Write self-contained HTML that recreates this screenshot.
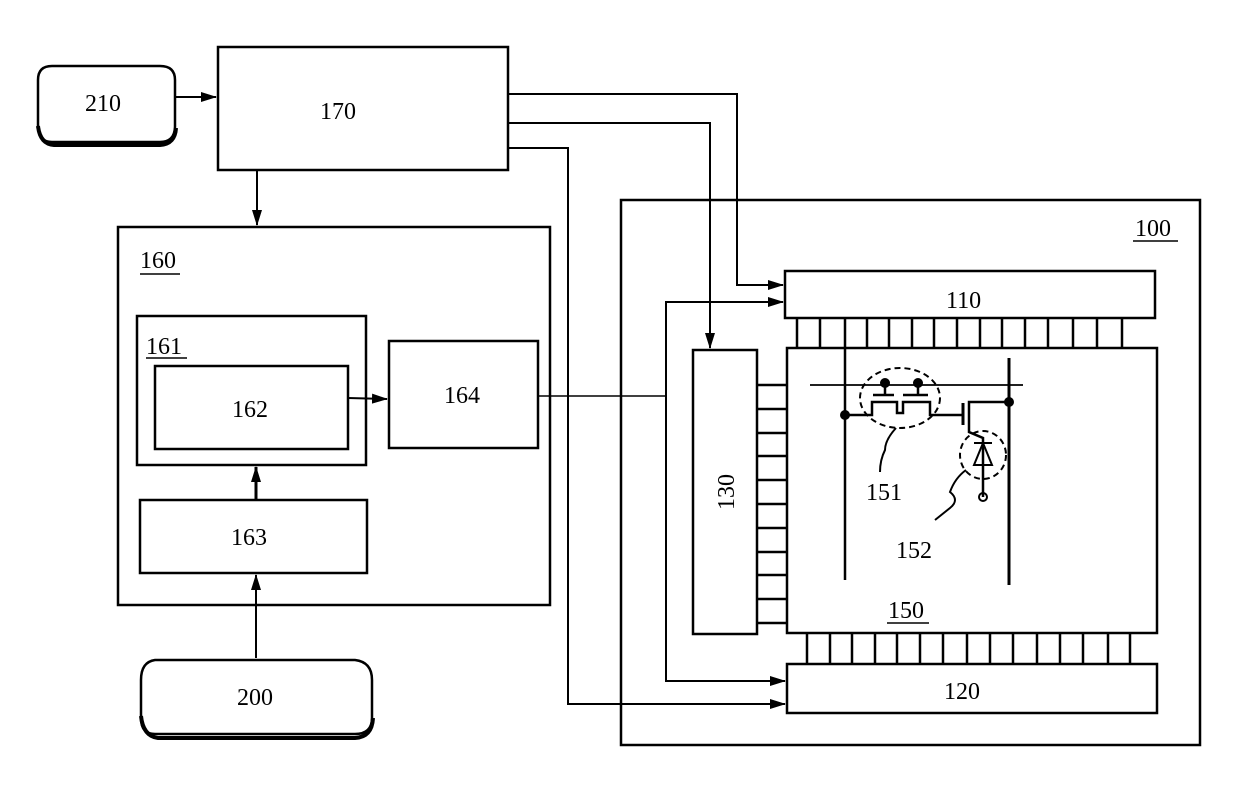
<!DOCTYPE html>
<html><head><meta charset="utf-8"><style>
html,body{margin:0;padding:0;background:#fff;}
svg{display:block;}
text{font-family:"Liberation Serif",serif;font-size:24px;fill:#000;}
</style></head><body>
<svg width="1240" height="809" viewBox="0 0 1240 809" xmlns="http://www.w3.org/2000/svg">
<defs>
<marker id="a" markerWidth="16" markerHeight="12" refX="15" refY="6" orient="auto" markerUnits="userSpaceOnUse">
<path d="M0,1 L16,6 L0,11 z" fill="#000"/></marker>
</defs>
<g fill="none" stroke="#000" stroke-width="2.5">
<path d="M52,66 H160 Q175,66 175,80 V126 Q175,142 160,142 H52 Q38,142 38,126 V80 Q38,66 52,66 Z"/>
<path d="M38,126 Q40,144 54,145 H160 Q175,144 176,128" stroke-width="4"/>
<rect x="218" y="47" width="290" height="123"/>
<line x1="175" y1="97" x2="216" y2="97" marker-end="url(#a)" stroke-width="2"/>
<line x1="257" y1="170" x2="257" y2="225" marker-end="url(#a)" stroke-width="2"/>
<rect x="118" y="227" width="432" height="378"/>
<rect x="137" y="316" width="229" height="149"/>
<rect x="155" y="366" width="193" height="83"/>
<rect x="389" y="341" width="149" height="107"/>
<rect x="140" y="500" width="227" height="73"/>
<line x1="348" y1="398" x2="387" y2="399" marker-end="url(#a)" stroke-width="2"/>
<line x1="256" y1="500" x2="256" y2="467" marker-end="url(#a)" stroke-width="3"/>
<line x1="256" y1="658" x2="256" y2="575" marker-end="url(#a)" stroke-width="2"/>
<path d="M155,660 H355 Q372,662 372,680 V718 Q372,734 355,734 H155 Q141,734 141,718 V680 Q141,662 155,660 Z"/>
<path d="M141,716 Q143,736 158,738 H355 Q372,737 373,718" stroke-width="4"/>
<rect x="621" y="200" width="579" height="545"/>
<rect x="785" y="271" width="370" height="47"/>
<rect x="787" y="664" width="370" height="49"/>
<rect x="693" y="350" width="64" height="284"/>
<rect x="787" y="348" width="370" height="285"/>
<path d="M508,94 H737 V285 H783" marker-end="url(#a)" stroke-width="2"/>
<path d="M508,123 H710 V348" marker-end="url(#a)" stroke-width="2"/>
<path d="M508,148 H568 V704 H785" marker-end="url(#a)" stroke-width="2"/>
<path d="M538,396 H665" stroke-width="1.5"/>
<path d="M783,302 H666 V681 H785" stroke-width="2"/>
<path d="M666,302 H783" marker-end="url(#a)" stroke-width="2"/>
<path d="M666,681 H785" marker-end="url(#a)" stroke-width="2"/>
</g>
<g stroke="#000" stroke-width="2.5">
<line x1="797" y1="318" x2="797" y2="348"/><line x1="820" y1="318" x2="820" y2="348"/><line x1="867" y1="318" x2="867" y2="348"/><line x1="889" y1="318" x2="889" y2="348"/><line x1="912" y1="318" x2="912" y2="348"/><line x1="934" y1="318" x2="934" y2="348"/><line x1="957" y1="318" x2="957" y2="348"/><line x1="980" y1="318" x2="980" y2="348"/><line x1="1002" y1="318" x2="1002" y2="348"/><line x1="1025" y1="318" x2="1025" y2="348"/><line x1="1048" y1="318" x2="1048" y2="348"/><line x1="1073" y1="318" x2="1073" y2="348"/><line x1="1097" y1="318" x2="1097" y2="348"/><line x1="1122" y1="318" x2="1122" y2="348"/>
<line x1="807" y1="633" x2="807" y2="664"/><line x1="830" y1="633" x2="830" y2="664"/><line x1="852" y1="633" x2="852" y2="664"/><line x1="875" y1="633" x2="875" y2="664"/><line x1="897" y1="633" x2="897" y2="664"/><line x1="920" y1="633" x2="920" y2="664"/><line x1="943" y1="633" x2="943" y2="664"/><line x1="967" y1="633" x2="967" y2="664"/><line x1="990" y1="633" x2="990" y2="664"/><line x1="1013" y1="633" x2="1013" y2="664"/><line x1="1037" y1="633" x2="1037" y2="664"/><line x1="1060" y1="633" x2="1060" y2="664"/><line x1="1083" y1="633" x2="1083" y2="664"/><line x1="1108" y1="633" x2="1108" y2="664"/><line x1="1130" y1="633" x2="1130" y2="664"/>
<line x1="757" y1="385" x2="787" y2="385"/><line x1="757" y1="409" x2="787" y2="409"/><line x1="757" y1="433" x2="787" y2="433"/><line x1="757" y1="456" x2="787" y2="456"/><line x1="757" y1="480" x2="787" y2="480"/><line x1="757" y1="504" x2="787" y2="504"/><line x1="757" y1="528" x2="787" y2="528"/><line x1="757" y1="552" x2="787" y2="552"/><line x1="757" y1="575" x2="787" y2="575"/><line x1="757" y1="599" x2="787" y2="599"/><line x1="757" y1="623" x2="787" y2="623"/>
</g>
<g fill="none" stroke="#000" stroke-width="2.5">
<line x1="810" y1="385" x2="1023" y2="385" stroke-width="1.8"/>
<line x1="845" y1="318" x2="845" y2="580"/>
<line x1="1009" y1="358" x2="1009" y2="585" stroke-width="3"/>
<path d="M845,415 H872 V402 H897 V413 H903 V402 H930 V415 H962"/>
<line x1="873" y1="395" x2="894" y2="395"/><line x1="903" y1="395" x2="928" y2="395"/>
<line x1="885" y1="385" x2="885" y2="395"/><line x1="918" y1="385" x2="918" y2="395"/>
<line x1="963" y1="403" x2="963" y2="425" stroke-width="3"/>
<path d="M969,428 V402 H1009"/>
<path d="M969,428 V432 L983,438 V497"/>
<path d="M974,443 H992 M983,443 L974,465 H992 Z" stroke-width="2"/>
<circle cx="983" cy="497" r="4" stroke-width="2"/>
<ellipse cx="900" cy="398" rx="40" ry="30" stroke-dasharray="6,4" stroke-width="2"/>
<ellipse cx="983" cy="455" rx="23" ry="24" stroke-dasharray="6,4" stroke-width="2"/>
<path d="M896,428 Q885,440 885,450 Q880,460 880,472" stroke-width="2"/>
<path d="M966,470 Q955,478 950,492 Q960,500 950,508 L935,520" stroke-width="2"/>
</g>
<g fill="#000">
<circle cx="845" cy="415" r="5"/><circle cx="1009" cy="402" r="5"/>
<circle cx="885" cy="383" r="5"/><circle cx="918" cy="383" r="5"/>
</g>
<text x="85" y="111">210</text>
<text x="320" y="119">170</text>
<text x="140" y="268">160</text><line x1="140" y1="274" x2="180" y2="274" stroke="#000" stroke-width="1.5"/>
<text x="146" y="354">161</text><line x1="146" y1="358" x2="187" y2="358" stroke="#000" stroke-width="1.5"/>
<text x="232" y="417">162</text>
<text x="444" y="403">164</text>
<text x="231" y="545">163</text>
<text x="237" y="705">200</text>
<text x="946" y="308">110</text>
<text x="944" y="699">120</text>
<text x="866" y="500">151</text>
<text x="896" y="558">152</text>
<text x="888" y="618">150</text><line x1="887" y1="623" x2="929" y2="623" stroke="#000" stroke-width="1.5"/>
<text x="1135" y="236">100</text><line x1="1133" y1="241" x2="1178" y2="241" stroke="#000" stroke-width="1.5"/>
<text x="0" y="0" transform="translate(734,492) rotate(-90)" text-anchor="middle">130</text>
</svg>
</body></html>
